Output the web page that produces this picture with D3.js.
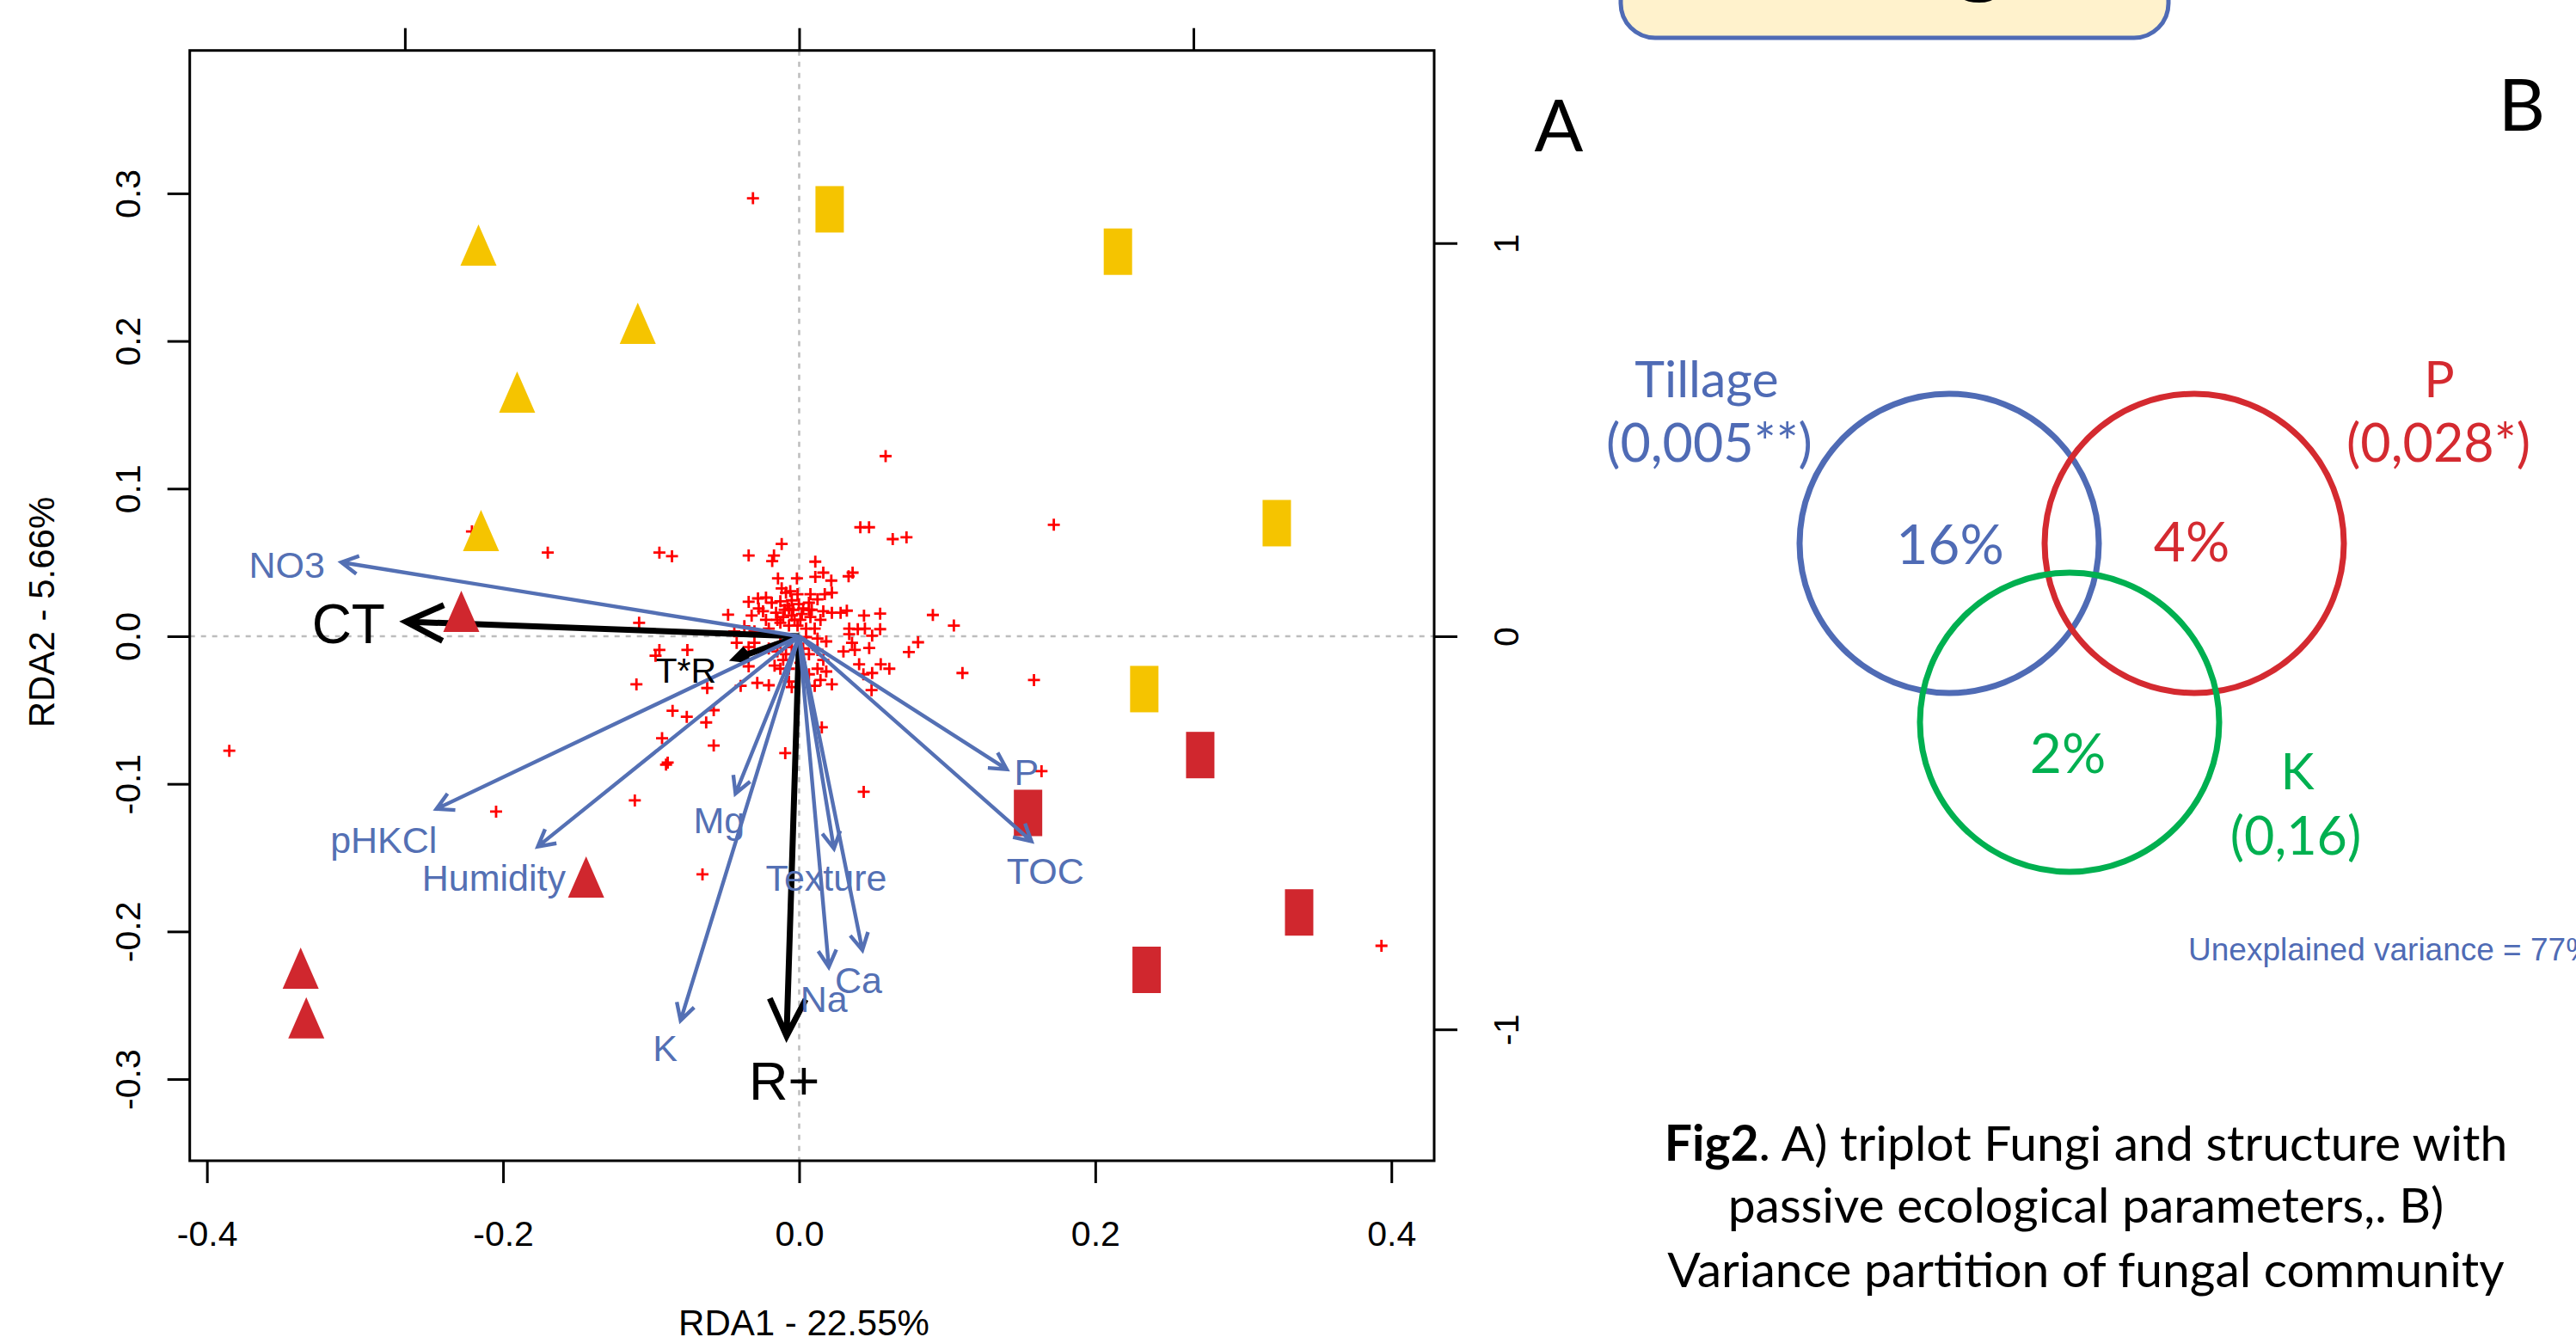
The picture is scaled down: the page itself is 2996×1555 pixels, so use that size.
<!DOCTYPE html>
<html>
<head>
<meta charset="utf-8">
<script src="https://cdn.jsdelivr.net/npm/d3@7/dist/d3.min.js"></script>
<style>
  body { margin: 0; background: #fff; }
  svg { display: block; }
</style>
</head>
<body>
<div id="chart-area"></div>
<script>
// ---- data (RDA1 / RDA2 units) ----
var xTicks = [-0.4, -0.2, 0.0, 0.2, 0.4];
var yTicks = [-0.3, -0.2, -0.1, 0.0, 0.1, 0.2, 0.3];
var x2Ticks = [-1, 0, 1];
var y2Ticks = [-1, 0, 1];

var specX = [-0.1698, -0.0944, -0.0859, 0.0413, 0.0472, 0.172, 0.0903, 0.1045, 0.1103, 0.1586,
  -0.0094, 0.0436, 0.1637, -0.1081, -0.0944, -0.097, -0.0755, -0.1099, -0.0621, -0.0855,
  -0.0759, -0.0577, -0.0628, -0.0926, -0.0577, -0.0888, -0.0899, -0.111, -0.3849, -0.2047,
  -0.0653, -0.0312, 0.0584, 0.3933, -0.221,
  -0.0118, -0.0341, -0.017, -0.0182, 0.0109, 0.0632, 0.0725, 0.0163, 0.0109, 0.0217,
  0.0334, 0.0361, -0.0143, -0.0015, -0.0118, -0.0089, 0.0076, 0.0173, 0.0221, -0.0341,
  -0.0278, -0.0224, -0.0185, -0.0127, -0.005, -0.0002, 0.0066, 0.0124, 0.0163, 0.0221,
  0.028, 0.0322, 0.0438, 0.0547, -0.048, -0.0321, -0.0244, -0.0156, -0.0098, -0.005,
  0.0018, 0.0076, 0.0144, -0.0127, -0.0069, -0.0011, 0.0047, 0.0105, 0.0338, 0.0396,
  0.0444, 0.0547, 0.0338, 0.0493, -0.037, -0.0438, -0.0302, -0.0205, 0.0047, 0.0124,
  0.0183, 0.0357, 0.0803, 0.0741, 0.0299, 0.0376, 0.0473, -0.0422, -0.0341, -0.0302,
  -0.0205, -0.0147, -0.0089, 0.0124, 0.0066, 0.0163, 0.0405, 0.0551, 0.0609, 0.0434,
  0.0493, -0.0341, -0.0166, -0.0108, -0.0069, 0.0124, 0.0183, -0.0283, -0.0205, -0.0069,
  -0.005, 0.0105, 0.0221, -0.0395, 0.0489, 0.0153,
  -0.0069, -0.0031, 0.0008, 0.0027, -0.0108, -0.0147, -0.004, -0.0079, -0.0011, -0.006,
  0.0066, -0.0224, -0.0273, 0.0085, -0.0127, -0.005, 0.0027, -0.0127, 0.0008, 0.0066, 0.0144];
var specY = [0.0567, 0.0567, 0.0542, 0.0738, 0.0738, 0.0755, 0.0144, 0.0072, -0.0249, -0.0297,
  -0.0792, -0.1054, -0.0914, 0.0091, -0.0093, -0.0132, -0.0093, -0.0326, -0.0351, -0.0505,
  -0.0546, -0.0501, -0.0584, -0.0691, -0.074, -0.0856, -0.087, -0.1112, -0.0776, -0.1188,
  -0.1613, 0.2967, 0.122, -0.2097, 0.071,
  0.0625, 0.0547, 0.0547, 0.0509, 0.0505, 0.0658, 0.067, 0.0431, 0.0402, 0.0377,
  0.0406, 0.0431, 0.0392, 0.0392, 0.0324, 0.0295, 0.0285, 0.0285, 0.0295, 0.0233,
  0.0256, 0.0262, 0.0227, 0.0237, 0.0243, 0.0217, 0.0227, 0.025, 0.0169, 0.0159,
  0.0159, 0.0173, 0.014, 0.0153, 0.0146, 0.014, 0.0169, 0.0159, 0.0179, 0.014,
  0.015, 0.013, 0.0111, 0.0091, 0.0072, 0.0072, 0.0052, 0.0052, 0.0052, 0.0048,
  0.0052, 0.0048, 0.0014, 0.0004, 0.0068, 0.0033, 0.0033, 0.0052, -0.0006, -0.0016,
  -0.0035, -0.0045, -0.0041, -0.0107, -0.0103, -0.0093, -0.008, -0.0045, -0.0074, -0.0045,
  -0.0083, -0.0103, -0.0122, -0.0093, -0.0122, -0.0161, -0.019, -0.019, -0.022, -0.0258,
  -0.0249, -0.0204, -0.0199, -0.0161, -0.022, -0.022, -0.0239, -0.0316, -0.0332, -0.0307,
  -0.0345, -0.0336, -0.0326, -0.0336, -0.0365, -0.0617,
  0.0188, 0.0111, 0.0111, 0.0188, 0.013, 0.0111, 0.0179, 0.0208, 0.0285, 0.0305,
  0.0179, 0.0111, 0.0188, 0.0179, -0.0045, -0.0074, -0.0083, -0.022, -0.018, -0.0258, -0.0297];

var yellowTriX = [-0.2166, -0.109, -0.1905, -0.2149];
var yellowTriY = [0.2603, 0.2073, 0.1607, 0.067];
var redTriX = [-0.2282, -0.1439, -0.3367, -0.3329];
var redTriY = [0.0122, -0.1677, -0.2295, -0.2632];
var yellowRectX = [0.0206, 0.2153, 0.3226, 0.2331];
var yellowRectY = [0.2892, 0.2605, 0.0766, -0.0358];
var redRectX = [0.2709, 0.1546, 0.3377, 0.2347];
var redRectY = [-0.0805, -0.1197, -0.1871, -0.226];

var envNames = ["NO3", "pHKCl", "Humidity", "Mg", "K", "Texture", "Na", "Ca", "P", "TOC"];
var envX = [-0.3092, -0.245, -0.1765, -0.043, -0.0801, 0.0235, 0.02, 0.0427, 0.1402, 0.1569];
var envY = [0.0501, -0.117, -0.1425, -0.1066, -0.2603, -0.1439, -0.224, -0.2126, -0.0901, -0.1389];
var envLabX = [-0.346, -0.2806, -0.2062, -0.0541, -0.0905, 0.0183, 0.0167, 0.0401, 0.1536, 0.1663];
var envLabY = [0.0486, -0.138, -0.1634, -0.1245, -0.279, -0.1634, -0.2456, -0.233, -0.0916, -0.1589];

var factNames = ["CT", "R+", "T*R"];
var factX = [-0.2655, -0.0085, -0.043];
var factY = [0.0099, -0.2708, -0.0151];
var factLabX = [-0.3044, -0.01, -0.0765];
var factLabY = [0.0085, -0.3008, -0.0227];

// ---- variance partition ----
var vennNames = ["Tillage", "P", "K"];
var vennP = ["(0,005**)", "(0,028*)", "(0,16)"];
var vennPct = ["16%", "4%", "2%"];
var unexplained = "Unexplained variance = 77%";

var W = 2996, H = 1555;
var rFont = "'Liberation Sans', Arial, sans-serif";
var oFont = "Lato, 'Open Sans', sans-serif";
var blue = "#5470b4", yellow = "#f5c400", red = "#d0272e";

var svg = d3.select("#chart-area")
  .append("svg")
  .attr("width", W)
  .attr("height", H)
  .style("background-color", "white");

var pLeft = 220.7, pRight = 1668, pTop = 58.7, pBottom = 1350;

var x = d3.scaleLinear().domain([-0.4116, 0.4289]).range([pLeft, pRight]);
var y = d3.scaleLinear().domain([-0.3553, 0.3968]).range([pBottom, pTop]);
var mul = 3.755;
var x2 = d3.scaleLinear().domain(x.domain().map(d => d * mul)).range(x.range());
var y2 = d3.scaleLinear().domain(y.domain().map(d => d * mul)).range(y.range());

var g = svg.append("g");

// zero lines
g.append("line")
  .attr("x1", x(0)).attr("x2", x(0)).attr("y1", pTop).attr("y2", pBottom)
  .attr("stroke", "#bdbdbd").attr("stroke-width", 2.5).attr("stroke-dasharray", "6,7");
g.append("line")
  .attr("x1", pLeft).attr("x2", pRight).attr("y1", y(0)).attr("y2", y(0))
  .attr("stroke", "#bdbdbd").attr("stroke-width", 2.5).attr("stroke-dasharray", "6,7");

// species
g.selectAll(".spec")
  .data(specX.map((d, i) => [d, specY[i]]))
  .enter()
  .append("path")
  .attr("class", "spec")
  .attr("transform", d => "translate(" + x(d[0]) + "," + y(d[1]) + ")")
  .attr("d", "M-7,0H7M0,-7V7")
  .attr("stroke", "#ff0000")
  .attr("stroke-width", 2.8)
  .attr("fill", "none");

function arrowPath(x0, y0, x1, y1, len, ang) {
  var a = Math.atan2(y1 - y0, x1 - x0);
  var hx1 = x1 - len * Math.cos(a - ang), hy1 = y1 - len * Math.sin(a - ang);
  var hx2 = x1 - len * Math.cos(a + ang), hy2 = y1 - len * Math.sin(a + ang);
  return "M" + x0 + "," + y0 + "L" + x1 + "," + y1 +
    "M" + hx1 + "," + hy1 + "L" + x1 + "," + y1 + "L" + hx2 + "," + hy2;
}

// constraint arrows (black)
var headLen = [48, 48, 16];
g.selectAll(".fact")
  .data(factNames)
  .enter()
  .append("path")
  .attr("class", "fact")
  .attr("d", (d, i) => arrowPath(x(0), y(0), x(factX[i]), y(factY[i]), headLen[i], 0.45))
  .attr("stroke", "black")
  .attr("stroke-width", 7)
  .attr("fill", "none")
  .attr("stroke-linejoin", "miter");

// sites
function tri(cx, cy) {
  return "M" + cx + "," + (cy - 32) + "L" + (cx + 21) + "," + (cy + 16) + "L" + (cx - 21) + "," + (cy + 16) + "Z";
}
g.selectAll(".ytri")
  .data(yellowTriX)
  .enter()
  .append("path")
  .attr("d", (d, i) => tri(x(d), y(yellowTriY[i])))
  .attr("fill", yellow);
g.selectAll(".rtri")
  .data(redTriX)
  .enter()
  .append("path")
  .attr("d", (d, i) => tri(x(d), y(redTriY[i])))
  .attr("fill", red);
g.selectAll(".yrect")
  .data(yellowRectX)
  .enter()
  .append("rect")
  .attr("x", d => x(d) - 16.5)
  .attr("y", (d, i) => y(yellowRectY[i]) - 27)
  .attr("width", 33).attr("height", 54)
  .attr("fill", yellow);
g.selectAll(".rrect")
  .data(redRectX)
  .enter()
  .append("rect")
  .attr("x", d => x(d) - 16.5)
  .attr("y", (d, i) => y(redRectY[i]) - 27)
  .attr("width", 33).attr("height", 54)
  .attr("fill", red);

// environmental arrows (blue)
g.selectAll(".env")
  .data(envNames)
  .enter()
  .append("path")
  .attr("class", "env")
  .attr("d", (d, i) => arrowPath(x(0), y(0), x(envX[i]), y(envY[i]), 22, 0.5))
  .attr("stroke", blue)
  .attr("stroke-width", 4.4)
  .attr("fill", "none");

g.selectAll(".envlab")
  .data(envNames)
  .enter()
  .append("text")
  .attr("x", (d, i) => x(envLabX[i]))
  .attr("y", (d, i) => y(envLabY[i]))
  .attr("dy", "0.36em")
  .attr("text-anchor", "middle")
  .attr("font-family", rFont)
  .attr("font-size", "43px")
  .attr("fill", blue)
  .text(d => d);

var factSize = [64, 63, 41];
g.selectAll(".factlab")
  .data(factNames)
  .enter()
  .append("text")
  .attr("x", (d, i) => x(factLabX[i]))
  .attr("y", (d, i) => y(factLabY[i]))
  .attr("dy", "0.36em")
  .attr("text-anchor", "middle")
  .attr("font-family", rFont)
  .attr("font-size", (d, i) => factSize[i] + "px")
  .attr("fill", "black")
  .text(d => d);

// frame
g.append("rect")
  .attr("x", pLeft).attr("y", pTop)
  .attr("width", pRight - pLeft).attr("height", pBottom - pTop)
  .attr("fill", "none").attr("stroke", "black").attr("stroke-width", 3);

// axes
var xAxisCall = d3.axisBottom(x).tickValues(xTicks).tickSize(26).tickFormat(d => d.toFixed(1));
var xAx = g.append("g")
  .attr("transform", "translate(0," + pBottom + ")")
  .call(xAxisCall);
xAx.selectAll("text").attr("y", 99).attr("dy", null);

var yAxisCall = d3.axisLeft(y).tickValues(yTicks).tickSize(26).tickFormat(d => d.toFixed(1));
var yAx = g.append("g")
  .attr("transform", "translate(" + pLeft + ",0)")
  .call(yAxisCall);
yAx.selectAll("text")
  .attr("x", null).attr("dy", null)
  .attr("text-anchor", "middle")
  .attr("transform", "translate(-58,0) rotate(-90)");

var topAx = g.append("g")
  .attr("transform", "translate(0," + pTop + ")")
  .call(d3.axisTop(x2).tickValues(x2Ticks).tickSize(26).tickFormat(""));

var rAx = g.append("g")
  .attr("transform", "translate(" + pRight + ",0)")
  .call(d3.axisRight(y2).tickValues(y2Ticks).tickSize(27).tickFormat(d => String(d)));
rAx.selectAll("text")
  .attr("x", null).attr("dy", null)
  .attr("text-anchor", "middle")
  .attr("transform", "translate(98,0) rotate(-90)");

g.selectAll(".domain").remove();
g.selectAll(".tick line").attr("stroke", "black").attr("stroke-width", 3);
g.selectAll(".tick text")
  .attr("font-family", rFont)
  .attr("font-size", "41px")
  .attr("fill", "black");

g.append("text")
  .attr("x", 935)
  .attr("y", 1553)
  .attr("text-anchor", "middle")
  .attr("font-family", rFont)
  .attr("font-size", "42px")
  .text("RDA1 - 22.55%");

g.append("text")
  .attr("transform", "translate(63,712) rotate(-90)")
  .attr("text-anchor", "middle")
  .attr("font-family", rFont)
  .attr("font-size", "42px")
  .text("RDA2 - 5.66%");

// ---- right hand panel ----
var p = svg.append("g");

p.append("rect")
  .attr("x", 1885).attr("y", -120)
  .attr("width", 637).attr("height", 164)
  .attr("rx", 40)
  .attr("fill", "#fff2cc").attr("stroke", "#4f6bb5").attr("stroke-width", 5);
p.append("text")
  .attr("x", 2303).attr("y", -19)
  .attr("text-anchor", "middle")
  .attr("font-family", oFont)
  .attr("font-size", "120px")
  .attr("font-weight", "bold")
  .text("g");

p.append("text").attr("x", 1813).attr("y", 176)
  .attr("text-anchor", "middle").attr("font-family", oFont).attr("font-size", "84px").text("A");
p.append("text").attr("x", 2933).attr("y", 152)
  .attr("text-anchor", "middle").attr("font-family", oFont).attr("font-size", "84px").text("B");

var vennCol = ["#4f6bb5", "#d42a30", "#00b050"];
var vennCx = [2267, 2552, 2407];
var vennCy = [632, 632, 840];
p.selectAll(".venn")
  .data(vennNames)
  .enter()
  .append("circle")
  .attr("cx", (d, i) => vennCx[i])
  .attr("cy", (d, i) => vennCy[i])
  .attr("r", 174)
  .attr("fill", "none")
  .attr("stroke", (d, i) => vennCol[i])
  .attr("stroke-width", 7);

var nameX = [1985, 2837, 2672], nameY = [462, 462, 918];
var pX = [1988, 2836, 2670], pY = [537, 537, 994];
var pctX = [2268, 2549, 2405], pctY = [656, 653, 899];

p.selectAll(".vname")
  .data(vennNames)
  .enter()
  .append("text")
  .attr("x", (d, i) => nameX[i]).attr("y", (d, i) => nameY[i])
  .attr("text-anchor", "middle")
  .attr("font-family", oFont).attr("font-size", "59px")
  .attr("fill", (d, i) => vennCol[i])
  .text(d => d);
p.selectAll(".vp")
  .data(vennP)
  .enter()
  .append("text")
  .attr("x", (d, i) => pX[i]).attr("y", (d, i) => pY[i])
  .attr("text-anchor", "middle")
  .attr("font-family", oFont).attr("font-size", "61px")
  .attr("fill", (d, i) => vennCol[i])
  .text(d => d);
p.selectAll(".vpct")
  .data(vennPct)
  .enter()
  .append("text")
  .attr("x", (d, i) => pctX[i]).attr("y", (d, i) => pctY[i])
  .attr("text-anchor", "middle")
  .attr("font-family", oFont).attr("font-size", "64px")
  .attr("fill", (d, i) => vennCol[i])
  .text(d => d);

p.append("text")
  .attr("x", 2545).attr("y", 1117)
  .attr("font-family", rFont).attr("font-size", "37px")
  .attr("fill", "#4f6bb5")
  .text(unexplained);

// caption
var cap = p.append("text")
  .attr("text-anchor", "middle")
  .attr("font-family", oFont)
  .attr("font-size", "57px")
  .attr("fill", "black");
var l1 = cap.append("tspan").attr("x", 2426).attr("y", 1350);
l1.append("tspan").attr("font-weight", "bold").text("Fig2");
l1.append("tspan").text(". A) triplot Fungi and structure with");
cap.append("tspan").attr("x", 2426).attr("y", 1422).text("passive ecological parameters,. B)");
cap.append("tspan").attr("x", 2426).attr("y", 1497).text("Variance partition of fungal community");
</script>
</body>
</html>
